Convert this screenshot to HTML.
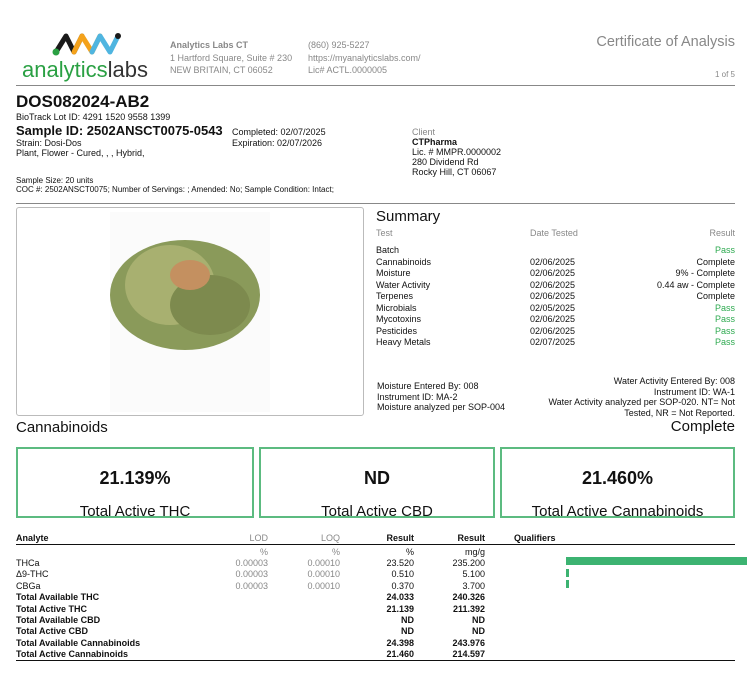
<!DOCTYPE html>
<html><head><meta charset="utf-8"><style>
*{margin:0;padding:0;box-sizing:border-box}
body{width:747px;height:676px;background:#fff;position:relative;font-family:"Liberation Sans",sans-serif;color:#111;overflow:hidden}
.a{position:absolute;white-space:nowrap;line-height:1}
.g{color:#888}
.s9{font-size:9px}
.r{text-align:right}
.b{font-weight:bold}
.gr{color:#2eaa50}
.box{position:absolute;top:447px;height:71px;border:2px solid #5cbb80;text-align:center}
.box .n{position:absolute;top:19px;width:100%;font-size:18px;font-weight:bold}
.box .l{position:absolute;top:54px;width:100%;font-size:15px}
</style></head><body>
<svg class="a" style="left:52px;top:30px" width="72" height="26" viewBox="0 0 72 26">
<polyline points="4,22 14,6 22,22 30,6" fill="none" stroke="#1a1a1a" stroke-width="5" stroke-linecap="round" stroke-linejoin="round"/>
<polyline points="22,22 30,6 40,22 48,6" fill="none" stroke="#f4a21b" stroke-width="5" stroke-linecap="round" stroke-linejoin="round"/>
<polyline points="40,22 48,6 58,22 66,6" fill="none" stroke="#4fb5e0" stroke-width="5" stroke-linecap="round" stroke-linejoin="round"/>
<circle cx="4" cy="22" r="3.5" fill="#2aa043"/><circle cx="66" cy="6" r="3" fill="#1a1a1a"/>
</svg>
<div class="a" style="left:22px;top:59px;font-size:22px;color:#2aa043">analytics<span style="color:#333;font-weight:normal">labs</span></div>
<div class="a s9 g" style="left:170px;top:39px;line-height:12.5px"><b>Analytics Labs CT</b><br>1 Hartford Square, Suite # 230<br>NEW BRITAIN, CT 06052</div>
<div class="a s9 g" style="left:308px;top:39px;line-height:12.5px">(860) 925-5227<br>https://myanalyticslabs.com/<br>Lic# ACTL.0000005</div>
<div class="a g" style="right:12px;top:35px;font-size:14.5px">Certificate of Analysis</div>
<div class="a g" style="right:12px;top:71px;font-size:8px">1 of 5</div>
<div class="a" style="left:16px;top:85px;width:719px;border-top:1px solid #888"></div>
<div class="a b" style="left:16px;top:93px;font-size:17px">DOS082024-AB2</div>
<div class="a s9" style="left:16px;top:113px">BioTrack Lot ID: 4291 1520 9558 1399</div>
<div class="a b" style="left:16px;top:124px;font-size:13px">Sample ID: 2502ANSCT0075-0543</div>
<div class="a s9" style="left:232px;top:127px;line-height:11px">Completed: 02/07/2025<br>Expiration: 02/07/2026</div>
<div class="a s9" style="left:16px;top:138px;line-height:10px">Strain: Dosi-Dos<br>Plant, Flower - Cured, , , Hybrid,</div>
<div class="a s9" style="left:412px;top:127px;line-height:10px"><span class="g">Client</span><br><b>CTPharma</b><br>Lic. # MMPR.0000002<br>280 Dividend Rd<br>Rocky Hill, CT 06067</div>
<div class="a" style="left:16px;top:177px;font-size:8px;line-height:8.5px">Sample Size: 20 units<br>COC #: 2502ANSCT0075; Number of Servings: ; Amended: No; Sample Condition: Intact;</div>
<div class="a" style="left:16px;top:203px;width:719px;border-top:1px solid #888"></div>
<div class="a" style="left:16px;top:207px;width:348px;height:209px;border:1px solid #bbb;border-radius:3px"></div>
<div class="a" style="left:110px;top:212px;width:160px;height:200px;background:#fbfbfb"></div>
<svg class="a" style="left:100px;top:215px" width="170" height="150"><ellipse cx="85" cy="80" rx="75" ry="55" fill="#8a9a5a"/><ellipse cx="70" cy="70" rx="45" ry="40" fill="#a8b070"/><ellipse cx="110" cy="90" rx="40" ry="30" fill="#7d8a4e"/><ellipse cx="90" cy="60" rx="20" ry="15" fill="#c49060"/></svg>
<div class="a" style="left:376px;top:209px;font-size:15px">Summary</div>
<div class="a s9 g" style="left:376px;top:229px">Test</div>
<div class="a s9 g" style="left:530px;top:229px">Date Tested</div>
<div class="a s9 g" style="right:12px;top:229px">Result</div>
<div class="a s9" style="left:376px;top:245px;line-height:11.5px">Batch<br>Cannabinoids<br>Moisture<br>Water Activity<br>Terpenes<br>Microbials<br>Mycotoxins<br>Pesticides<br>Heavy Metals</div>
<div class="a s9" style="left:530px;top:245px;line-height:11.5px"><br>02/06/2025<br>02/06/2025<br>02/06/2025<br>02/06/2025<br>02/05/2025<br>02/06/2025<br>02/06/2025<br>02/07/2025</div>
<div class="a s9 r" style="right:12px;top:245px;line-height:11.5px"><span class="gr">Pass</span><br>Complete<br>9% - Complete<br>0.44 aw - Complete<br>Complete<br><span class="gr">Pass</span><br><span class="gr">Pass</span><br><span class="gr">Pass</span><br><span class="gr">Pass</span></div>
<div class="a s9" style="left:377px;top:381px;line-height:10.5px">Moisture Entered By: 008<br>Instrument ID: MA-2<br>Moisture analyzed per SOP-004</div>
<div class="a s9 r" style="right:12px;top:376px;line-height:10.5px">Water Activity Entered By: 008<br>Instrument ID: WA-1<br>Water Activity analyzed per SOP-020. NT= Not<br>Tested, NR = Not Reported.</div>
<div class="a" style="left:16px;top:420px;font-size:15px">Cannabinoids</div>
<div class="a" style="right:12px;top:419px;font-size:15px">Complete</div>
<div class="box" style="left:16px;width:238px"><div class="n">21.139%</div><div class="l">Total Active THC</div></div>
<div class="box" style="left:259px;width:236px"><div class="n">ND</div><div class="l">Total Active CBD</div></div>
<div class="box" style="left:500px;width:235px"><div class="n">21.460%</div><div class="l">Total Active Cannabinoids</div></div>
<div class="a s9 b" style="left:16px;top:534px">Analyte</div>
<div class="a s9 g" style="right:479px;top:534px">LOD</div>
<div class="a s9 g" style="right:407px;top:534px">LOQ</div>
<div class="a s9 b" style="right:333px;top:534px">Result</div>
<div class="a s9 b" style="right:262px;top:534px">Result</div>
<div class="a s9 b" style="left:514px;top:534px">Qualifiers</div>
<div class="a" style="left:16px;top:544px;width:719px;border-top:1.5px solid #111"></div>
<div class="a s9" style="left:16px;top:558px;line-height:11.4px">THCa<br>Δ9-THC<br>CBGa<br><b>Total Available THC<br>Total Active THC<br>Total Available CBD<br>Total Active CBD<br>Total Available Cannabinoids<br>Total Active Cannabinoids</b></div>
<div class="a s9 g r" style="right:479px;top:546.6px;line-height:11.4px">%<br>0.00003<br>0.00003<br>0.00003</div>
<div class="a s9 g r" style="right:407px;top:546.6px;line-height:11.4px">%<br>0.00010<br>0.00010<br>0.00010</div>
<div class="a s9 r" style="right:333px;top:546.6px;line-height:11.4px">%<br>23.520<br>0.510<br>0.370<br><b>24.033<br>21.139<br>ND<br>ND<br>24.398<br>21.460</b></div>
<div class="a s9 r" style="right:262px;top:546.6px;line-height:11.4px">mg/g<br>235.200<br>5.100<br>3.700<br><b>240.326<br>211.392<br>ND<br>ND<br>243.976<br>214.597</b></div>
<div class="a" style="left:566px;top:557px;width:181px;height:8px;background:#3cb371"></div>
<div class="a" style="left:566px;top:569px;width:3px;height:8px;background:#3cb371"></div>
<div class="a" style="left:566px;top:580px;width:3px;height:8px;background:#3cb371"></div>
<div class="a" style="left:16px;top:660px;width:719px;border-top:1.5px solid #111"></div>
</body></html>
